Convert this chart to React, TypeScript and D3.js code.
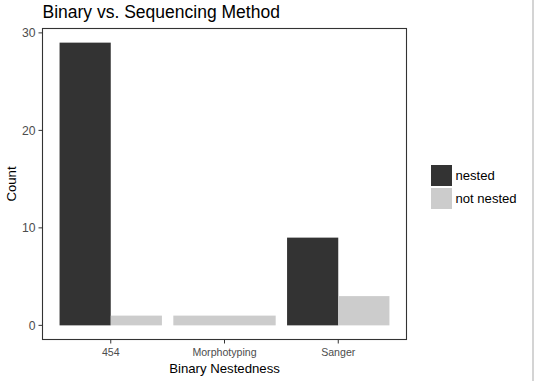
import React from "react";
import * as d3 from "d3";

const categories = ["454", "Morphotyping", "Sanger"];
const seriesNames = ["nested", "not nested"];
const nestedValues: (number | null)[] = [29, null, 9];
const notNestedValues: (number | null)[] = [1, 1, 3];
const seriesColors = ["#333333", "#cccccc"];
const yTicks = [0, 10, 20, 30];

const W = 534;
const H = 381;
const panel = { left: 42.5, right: 406.5, top: 28.5, bottom: 339.5 };

export default function App() {
  const x = d3
    .scaleBand<string>()
    .domain(categories)
    .range([panel.left, panel.right])
    .paddingInner(0.1)
    .paddingOuter(0.15);
  const y = d3
    .scaleLinear()
    .domain([-1.45, 30.45])
    .range([panel.bottom, panel.top]);

  const seriesValues = [nestedValues, notNestedValues];
  const bars: { key: string; x: number; y: number; w: number; h: number; fill: string }[] = [];
  categories.forEach((c, ci) => {
    const present = seriesValues
      .map((vals, si) => ({ si, v: vals[ci] }))
      .filter((d) => d.v !== null && d.v !== undefined);
    const bw = x.bandwidth() / present.length;
    present.forEach((d, k) => {
      const v = d.v as number;
      bars.push({
        key: `${c}-${d.si}`,
        x: (x(c) as number) + k * bw,
        y: y(v),
        w: bw,
        h: y(0) - y(v),
        fill: seriesColors[d.si],
      });
    });
  });

  const font = "'Liberation Sans', Arial, Helvetica, sans-serif";

  return (
    <svg
      width={W}
      height={H}
      style={{ position: "absolute", left: 0, top: 0, display: "block", background: "#fff" }}
      fontFamily={font}
    >
      <rect x={0} y={0} width={W} height={H} fill="#fff" />
      <text x={42.5} y={17.5} fontSize={17.5} fill="#000">
        Binary vs. Sequencing Method
      </text>
      {bars.map((b) => (
        <rect key={b.key} x={b.x} y={b.y} width={b.w} height={b.h} fill={b.fill} />
      ))}
      <rect
        x={panel.left}
        y={panel.top}
        width={panel.right - panel.left}
        height={panel.bottom - panel.top}
        fill="none"
        stroke="#333333"
        strokeWidth={1.1}
      />
      {yTicks.map((t) => (
        <g key={t}>
          <line x1={panel.left - 4} x2={panel.left} y1={y(t)} y2={y(t)} stroke="#333333" strokeWidth={1} />
          <text x={panel.left - 7} y={y(t)} dy="0.36em" textAnchor="end" fontSize={12.2} fill="#4d4d4d">
            {t}
          </text>
        </g>
      ))}
      {categories.map((c) => {
        const cx = (x(c) as number) + x.bandwidth() / 2;
        return (
          <g key={c}>
            <line x1={cx} x2={cx} y1={panel.bottom} y2={panel.bottom + 4} stroke="#333333" strokeWidth={1} />
            <text x={cx} y={panel.bottom + 16.5} textAnchor="middle" fontSize={10.6} fill="#4d4d4d">
              {c}
            </text>
          </g>
        );
      })}
      <text
        x={(panel.left + panel.right) / 2}
        y={373}
        textAnchor="middle"
        fontSize={13.2}
        fill="#000"
      >
        Binary Nestedness
      </text>
      <text
        transform={`translate(16, ${(panel.top + panel.bottom) / 2}) rotate(-90)`}
        textAnchor="middle"
        fontSize={13.2}
        fill="#000"
      >
        Count
      </text>
      {seriesNames.map((s, i) => (
        <g key={s}>
          <rect x={431} y={165 + i * 23} width={21} height={21} fill={seriesColors[i]} />
          <text x={455.5} y={165 + i * 23 + 10.5} dy="0.36em" fontSize={13.1} fill="#000">
            {s}
          </text>
        </g>
      ))}
      <rect x={532} y={0} width={2} height={H} fill="#d4d4d4" />
    </svg>
  );
}
